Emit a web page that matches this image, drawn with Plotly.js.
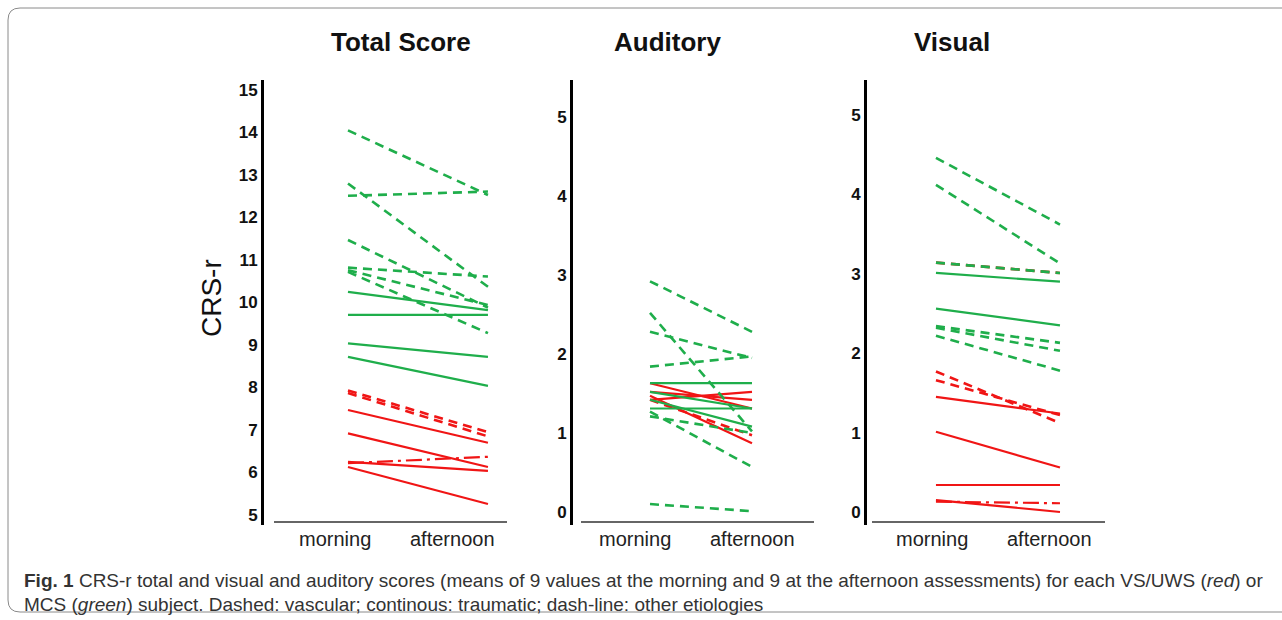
<!DOCTYPE html>
<html>
<head>
<meta charset="utf-8">
<script src="https://cdn.plot.ly/plotly-3.0.1.min.js"></script>
<style>
  html, body { margin: 0; padding: 0; background: #ffffff; }
  #chart { width: 1282px; height: 620px; }
</style>
</head>
<body>
<div id="chart"></div>
<script>
// ---------- data ----------
const categories = ['morning', 'afternoon'];
const panelTitles = ['Total Score', 'Auditory', 'Visual'];
const yAxisTitle = 'CRS-r';
const totalTicks = [5, 6, 7, 8, 9, 10, 11, 12, 13, 14, 15];
const subTicks = [0, 1, 2, 3, 4, 5];

// Total score
const totalMorning   = [14.05, 12.51, 12.80, 11.47, 10.82, 10.76, 10.72, 10.25, 9.71, 9.04, 8.72, 7.93, 7.87, 7.47, 6.92, 6.25, 6.13, 6.22];
const totalAfternoon = [12.53, 12.61, 10.37,  9.88, 10.61,  9.94,  9.28,  9.82, 9.71, 8.72, 8.04, 6.95, 6.85, 6.70, 6.13, 6.04, 5.26, 6.37];
const totalGroup     = ['MCS','MCS','MCS','MCS','MCS','MCS','MCS','MCS','MCS','MCS','MCS','VS/UWS','VS/UWS','VS/UWS','VS/UWS','VS/UWS','VS/UWS','VS/UWS'];
const totalEtiology  = ['vascular','vascular','vascular','vascular','vascular','vascular','vascular','traumatic','traumatic','traumatic','traumatic','vascular','vascular','traumatic','traumatic','traumatic','traumatic','other'];

// Auditory
const audMorning   = [2.92, 2.52, 2.28, 1.84, 1.21, 1.27, 0.10, 1.63, 1.52, 1.42, 1.31, 1.42, 1.63, 1.52, 1.42, 1.47];
const audAfternoon = [2.28, 1.02, 1.95, 1.97, 1.00, 0.57, 0.01, 1.63, 1.31, 1.08, 1.31, 0.97, 1.31, 1.42, 1.52, 0.87];
const audGroup     = ['MCS','MCS','MCS','MCS','MCS','MCS','MCS','MCS','MCS','MCS','MCS','VS/UWS','VS/UWS','VS/UWS','VS/UWS','VS/UWS'];
const audEtiology  = ['vascular','vascular','vascular','vascular','vascular','vascular','vascular','traumatic','traumatic','traumatic','traumatic','vascular','traumatic','traumatic','traumatic','traumatic'];

// Visual
const visMorning   = [4.46, 4.12, 3.14, 2.34, 2.32, 2.22, 3.01, 2.56, 3.14, 1.77, 1.66, 1.45, 1.01, 0.34, 0.15, 0.13];
const visAfternoon = [3.62, 3.13, 3.01, 2.13, 2.03, 1.78, 2.90, 2.35, 3.01, 1.12, 1.22, 1.24, 0.56, 0.34, 0.00, 0.11];
const visGroup     = ['MCS','MCS','MCS','MCS','MCS','MCS','MCS','MCS','VS/UWS','VS/UWS','VS/UWS','VS/UWS','VS/UWS','VS/UWS','VS/UWS','VS/UWS'];
const visEtiology  = ['vascular','vascular','vascular','vascular','vascular','vascular','traumatic','traumatic','vascular','vascular','vascular','traumatic','traumatic','traumatic','traumatic','other'];

// ---------- styling ----------
const W = 1282, H = 620;
const px = x => x / W;
const py = y => 1 - y / H;
const GREEN = '#1fae4b';
const RED = '#f01515';
const dashFor = { vascular: '9px,6px', traumatic: 'solid', other: '16px,5px,3px,5px' };
const widthFor = { vascular: 2.6, traumatic: 2.2, other: 2.2 };

const traces = [];
function addPanel(morning, afternoon, group, etiology, xa, ya) {
  // red first, green on top
  ['VS/UWS', 'MCS'].forEach(g => {
    for (let i = 0; i < morning.length; i++) {
      if (group[i] !== g) continue;
      traces.push({
        type: 'scatter', mode: 'lines',
        x: categories, y: [morning[i], afternoon[i]],
        xaxis: xa, yaxis: ya,
        line: { color: g === 'MCS' ? GREEN : RED, dash: dashFor[etiology[i]], width: widthFor[etiology[i]] },
        hoverinfo: 'skip', showlegend: false
      });
    }
  });
}
addPanel(totalMorning, totalAfternoon, totalGroup, totalEtiology, 'x', 'y');
addPanel(audMorning, audAfternoon, audGroup, audEtiology, 'x2', 'y2');
addPanel(visMorning, visAfternoon, visGroup, visEtiology, 'x3', 'y3');

const tickFont = { family: '"Liberation Sans Narrow", "Arial Narrow", "Liberation Sans", Arial, sans-serif', size: 17, color: '#111', weight: 'bold' };
const yDomain = [py(525), py(80)];

function xAxis(d0, d1, range) {
  return { domain: [px(d0), px(d1)], type: 'category', range: range, showline: false, showgrid: false,
           zeroline: false, showticklabels: false, ticks: '', fixedrange: true };
}
function yAxis(anchor, range, tickvals) {
  return { domain: yDomain, anchor: anchor, range: range, tickmode: 'array', tickvals: tickvals,
           showline: true, linecolor: '#000', linewidth: 3, ticks: '', showgrid: false, zeroline: false,
           tickfont: tickFont, fixedrange: true };
}

const panels = [
  { x0: 264, x1: 507, lineX0: 274, range: [-0.6, 1.136], labels: [-0.093, 0.746], titleX: 401 },
  { x0: 573, x1: 814, lineX0: 581, range: [-0.755, 1.608], labels: [-0.147, 1.005], titleX: 667 },
  { x0: 867, x1: 1105, lineX0: 872, range: [-0.556, 1.363], labels: [-0.028, 0.919], titleX: 952 }
];

const annotations = [];
const shapes = [];
const axKeys = ['', '2', '3'];
panels.forEach((p, k) => {
  annotations.push({ text: panelTitles[k], xref: 'paper', yref: 'paper', x: px(p.titleX), y: py(42),
    xanchor: 'center', yanchor: 'middle', showarrow: false,
    font: { family: '"Liberation Sans", Arial, sans-serif', size: 26, color: '#111', weight: 'bold' } });
  categories.forEach((c, j) => {
    annotations.push({ text: c, xref: 'x' + axKeys[k], yref: 'paper', x: p.labels[j], y: py(539),
      xanchor: 'center', yanchor: 'middle', showarrow: false,
      font: { family: '"Liberation Sans", Arial, sans-serif', size: 20, color: '#222' } });
  });
  shapes.push({ type: 'line', xref: 'paper', yref: 'paper', x0: px(p.lineX0), x1: px(p.x1), y0: py(522), y1: py(522),
    line: { color: '#333', width: 1.5 } });
});

annotations.push({ text: yAxisTitle, xref: 'paper', yref: 'paper', x: px(211), y: py(298), textangle: -90,
  xanchor: 'center', yanchor: 'middle', showarrow: false,
  font: { family: '"Liberation Sans", Arial, sans-serif', size: 28, color: '#111' } });

const capFont = { family: '"Liberation Sans Narrow", "Arial Narrow", "Liberation Sans", Arial, sans-serif', size: 19, color: '#333' };
annotations.push({ text: '<b>Fig. 1</b> CRS-r total and visual and auditory scores (means of 9 values at the morning and 9 at the afternoon assessments) for each VS/UWS (<i>red</i>) or',
  xref: 'paper', yref: 'paper', x: px(22), y: py(580), xanchor: 'left', yanchor: 'middle', showarrow: false, align: 'left', font: capFont });
annotations.push({ text: 'MCS (<i>green</i>) subject. Dashed: vascular; continous: traumatic; dash-line: other etiologies',
  xref: 'paper', yref: 'paper', x: px(22), y: py(604), xanchor: 'left', yanchor: 'middle', showarrow: false, align: 'left', font: capFont });

// rounded frame
const r = 12;
const P = (x, y) => px(x) + ' ' + py(y);
shapes.push({ type: 'path', xref: 'paper', yref: 'paper',
  path: 'M ' + P(1290, 8) + ' L ' + P(8 + r, 8) + ' Q ' + P(8, 8) + ' ' + P(8, 8 + r) +
        ' L ' + P(8, 612 - r) + ' Q ' + P(8, 612) + ' ' + P(8 + r, 612) + ' L ' + P(1290, 612),
  line: { color: '#8a8a8a', width: 1 } });

const layout = {
  width: W, height: H,
  margin: { l: 0, r: 0, t: 0, b: 0, pad: 0 },
  paper_bgcolor: '#ffffff', plot_bgcolor: 'rgba(0,0,0,0)',
  showlegend: false,
  xaxis: xAxis(264, 507, panels[0].range),
  xaxis2: xAxis(573, 814, panels[1].range),
  xaxis3: xAxis(867, 1105, panels[2].range),
  yaxis: yAxis('x', [4.765, 15.235], totalTicks),
  yaxis2: yAxis('x2', [-0.165, 5.468], subTicks),
  yaxis3: yAxis('x3', [-0.164, 5.44], subTicks),
  annotations: annotations,
  shapes: shapes
};

Plotly.newPlot('chart', traces, layout, { staticPlot: true, displayModeBar: false });
</script>
</body>
</html>
